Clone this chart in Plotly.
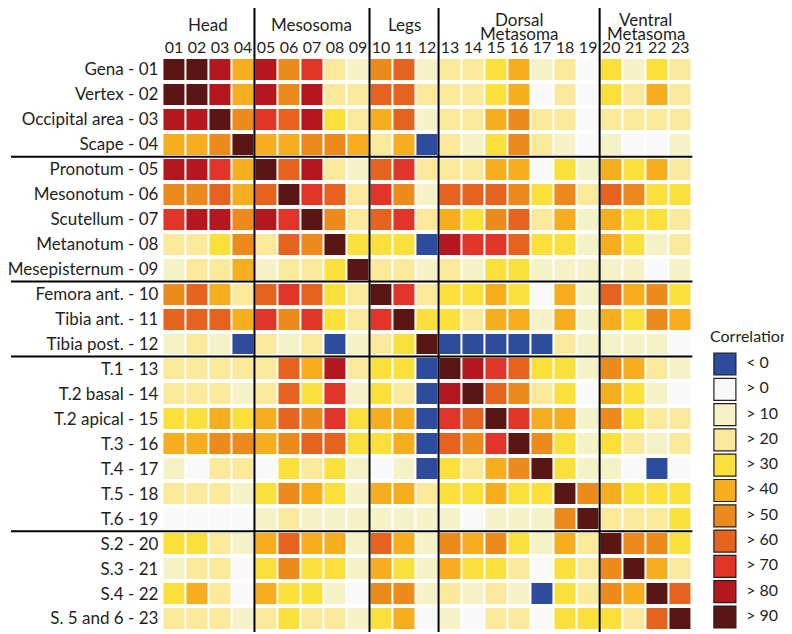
import plotly.graph_objects as go

# The page keeps the browser's default 8px body margin, so the figure is sized
# to fill the 792x634 window and all reference pixel positions are shifted by it.
WIN_W, WIN_H, PAGE_M = 792, 634, 8
W, H = WIN_W - PAGE_M, WIN_H - PAGE_M

row_labels = ["Gena - 01", "Vertex - 02", "Occipital area - 03", "Scape - 04",
              "Pronotum - 05", "Mesonotum - 06", "Scutellum - 07", "Metanotum - 08",
              "Mesepisternum - 09", "Femora ant. - 10", "Tibia ant. - 11", "Tibia post. - 12",
              "T.1 - 13", "T.2 basal - 14", "T.2 apical - 15", "T.3 - 16", "T.4 - 17",
              "T.5 - 18", "T.6 - 19", "S.2 - 20", "S.3 - 21", "S.4 - 22", "S. 5 and 6 - 23"]
col_labels = ["01", "02", "03", "04", "05", "06", "07", "08", "09", "10", "11", "12",
              "13", "14", "15", "16", "17", "18", "19", "20", "21", "22", "23"]

group_names = [["Head"], ["Mesosoma"], ["Legs"], ["Dorsal", "Metasoma"], ["Ventral", "Metasoma"]]
group_sizes = [4, 5, 3, 7, 4]

# approximate correlation (%) (class midpoints)
corr = [
    [95, 95, 85, 45, 85, 55, 75, 25, 15, 55, 65, 15, 25, 25, 35, 45, 15, 25, 5, 35, 15, 35, 25],
    [95, 95, 85, 45, 85, 55, 85, 25, 25, 65, 65, 25, 25, 25, 35, 45, 5, 25, 5, 35, 25, 45, 25],
    [85, 85, 95, 55, 75, 65, 85, 35, 25, 45, 65, 15, 25, 25, 45, 55, 25, 25, 5, 25, 25, 25, 25],
    [45, 45, 55, 95, 45, 45, 55, 55, 45, 25, 45, -5, 25, 15, 35, 55, 25, 15, 5, 15, 5, 5, 15],
    [85, 85, 75, 45, 95, 65, 85, 25, 15, 65, 75, 25, 25, 25, 45, 45, 5, 35, 15, 45, 35, 45, 25],
    [55, 55, 65, 45, 65, 95, 75, 65, 25, 75, 55, 15, 65, 65, 65, 55, 35, 55, 25, 65, 55, 35, 35],
    [75, 85, 85, 55, 85, 75, 95, 55, 25, 65, 75, 25, 45, 35, 55, 65, 25, 45, 15, 45, 35, 35, 25],
    [25, 25, 35, 55, 25, 65, 55, 95, 35, 35, 35, -5, 85, 75, 75, 65, 35, 35, 15, 45, 35, 15, 25],
    [15, 25, 25, 45, 15, 25, 25, 35, 95, 25, 25, 15, 25, 15, 35, 35, 15, 15, 15, 15, 15, 5, 15],
    [55, 65, 45, 25, 65, 75, 65, 35, 25, 95, 75, 25, 35, 35, 45, 35, 5, 45, 15, 65, 45, 55, 35],
    [65, 65, 65, 45, 75, 55, 75, 35, 25, 75, 95, 35, 35, 25, 45, 45, 15, 45, 15, 45, 35, 55, 45],
    [15, 25, 15, -5, 25, 15, 25, -5, 15, 25, 35, 95, -5, -5, -5, -5, -5, 25, 15, 15, 15, 15, 5],
    [25, 25, 25, 25, 25, 65, 45, 85, 25, 35, 35, -5, 95, 85, 75, 65, 35, 35, 15, 55, 45, 25, 15],
    [25, 25, 25, 15, 25, 65, 35, 75, 15, 35, 25, -5, 85, 95, 65, 55, 25, 35, 5, 45, 35, 15, 5],
    [35, 35, 45, 35, 45, 65, 55, 75, 35, 45, 45, -5, 75, 65, 95, 75, 45, 45, 15, 55, 35, 25, 25],
    [45, 45, 55, 55, 45, 55, 65, 65, 35, 35, 45, -5, 65, 55, 75, 95, 55, 35, 15, 35, 25, 15, 25],
    [15, 5, 25, 25, 5, 35, 25, 35, 15, 5, 15, -5, 35, 25, 45, 55, 95, 35, 15, 15, 5, -5, 5],
    [25, 25, 25, 15, 35, 55, 45, 35, 15, 45, 45, 25, 35, 35, 45, 35, 35, 95, 55, 45, 35, 35, 35],
    [5, 5, 5, 5, 15, 25, 15, 15, 15, 15, 15, 15, 15, 5, 15, 15, 15, 55, 95, 25, 25, 25, 35],
    [35, 35, 25, 15, 45, 65, 45, 45, 15, 65, 45, 15, 55, 45, 55, 35, 15, 45, 25, 95, 55, 55, 35],
    [15, 25, 25, 5, 35, 55, 35, 35, 15, 45, 35, 15, 45, 35, 35, 25, 5, 35, 25, 55, 95, 45, 25],
    [35, 45, 25, 5, 45, 35, 35, 15, 5, 55, 55, 15, 25, 15, 25, 15, -5, 35, 25, 55, 45, 95, 65],
    [25, 25, 25, 15, 25, 35, 25, 25, 15, 35, 45, 5, 15, 5, 25, 25, 5, 35, 35, 35, 25, 65, 95],
]

legend_labels = ["< 0", "> 0", "> 10", "> 20", "> 30", "> 40", "> 50", "> 60", "> 70", "> 80", "> 90"]
legend_colors = ["#2e4c9c", "#f9f9f9", "#f6f2c8", "#fae99a", "#fbe03c", "#f6ae1f",
                 "#ed8a1c", "#e6621f", "#e1352a", "#b5171f", "#5a1515"]
zmin, zmax = -10, 100

TXT = "#231f20"
FONT = "Lato"
FS = 16        # column numbers, legend
FS_ROW = 17    # row labels
FS_HEAD = 17   # group headers

n = len(legend_colors)
colorscale = []
for i, c in enumerate(legend_colors):
    colorscale.append([i / n, c])
    colorscale.append([(i + 1) / n, c])

ncol, nrow = len(col_labels), len(row_labels)

# pixel geometry of plot area (window pixels)
gx0, gx1 = 160, 691.3
gy0, gy1 = 57, 631

def px(xp):
    return (xp - PAGE_M) / W

def py(yp):
    return (H - (yp - PAGE_M)) / H

fig = go.Figure()
fig.add_trace(go.Heatmap(
    z=corr, x=list(range(ncol)), y=list(range(nrow)),
    zmin=zmin, zmax=zmax, colorscale=colorscale, showscale=False,
    xgap=2, ygap=4, hoverongaps=False,
))

# legend swatches (on their own axes)
fig.add_trace(go.Scatter(
    x=[22.5] * n, y=list(range(n)), mode="markers",
    marker=dict(symbol="square", size=22, color=legend_colors,
                line=dict(color=TXT, width=1.2)),
    xaxis="x2", yaxis="y2", showlegend=False, hoverinfo="skip", cliponaxis=False,
))
fig.add_trace(go.Scatter(
    x=[42] * n, y=list(range(n)), mode="text", text=legend_labels,
    textposition="middle right", textfont=dict(family=FONT, size=FS, color=TXT),
    xaxis="x2", yaxis="y2", showlegend=False, hoverinfo="skip", cliponaxis=False,
))

shapes = []
bounds = []
acc = 0
for s in group_sizes[:-1]:
    acc += s
    bounds.append(acc - 0.5)
for b in bounds:
    shapes.append(dict(type="line", xref="x", yref="paper", x0=b, x1=b,
                       y0=py(632), y1=py(8), line=dict(color="black", width=2)))
    shapes.append(dict(type="line", xref="paper", yref="y", y0=b, y1=b,
                       x0=px(8), x1=px(692), line=dict(color="black", width=2)))

annotations = []
start = 0
for names, s in zip(group_names, group_sizes):
    center = start + (s - 1) / 2
    if len(names) == 1:
        annotations.append(dict(x=center, xref="x", y=py(24), yref="paper", text=names[0],
                                showarrow=False, xanchor="center", yanchor="middle",
                                font=dict(family=FONT, size=FS_HEAD, color=TXT)))
    else:
        for k, nm in enumerate(names):
            annotations.append(dict(x=center, xref="x", y=py(19.5 + 13.5 * k), yref="paper", text=nm,
                                    showarrow=False, xanchor="center", yanchor="middle",
                                    font=dict(family=FONT, size=FS_HEAD, color=TXT)))
    start += s

annotations.append(dict(x=px(791), xref="paper", y=py(335), yref="paper", text="Correlation",
                        showarrow=False, xanchor="right", yanchor="middle",
                        font=dict(family=FONT, size=FS, color=TXT)))

fig.update_layout(
    width=W, height=H, margin=dict(l=0, r=0, t=0, b=0),
    paper_bgcolor="white", plot_bgcolor="white",
    font=dict(family=FONT, size=FS, color=TXT),
    xaxis=dict(domain=[px(gx0), px(gx1)], range=[-0.5, ncol - 0.5], side="top",
               tickmode="array", tickvals=list(range(ncol)), ticktext=col_labels,
               showgrid=False, zeroline=False, showline=False, ticks="",
               ticklabelstandoff=0, tickfont=dict(family=FONT, size=FS, color=TXT),
               fixedrange=True),
    yaxis=dict(domain=[py(gy1), py(gy0)], range=[nrow - 0.5, -0.5],
               tickmode="array", tickvals=list(range(nrow)), ticktext=row_labels,
               showgrid=False, zeroline=False, showline=False, ticks="",
               ticklabelstandoff=3, tickfont=dict(family=FONT, size=FS_ROW, color=TXT),
               fixedrange=True),
    xaxis2=dict(domain=[px(700), 1], range=[0, 84], visible=False, anchor="y2", fixedrange=True),
    yaxis2=dict(domain=[py(364 + 25.3 * 10.5), py(364 - 25.3 * 0.5)], range=[10.5, -0.5],
                visible=False, anchor="x2", fixedrange=True),
    shapes=shapes, annotations=annotations, showlegend=False,
)

fig.write_html("out.html")
